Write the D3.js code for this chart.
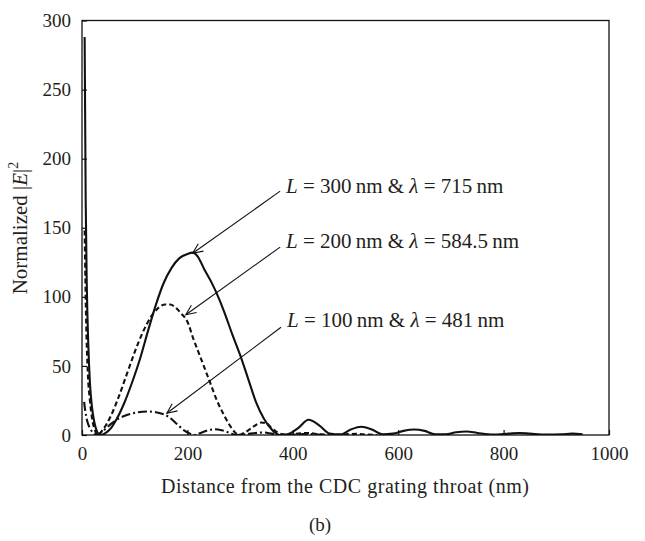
<!DOCTYPE html>
<html><head><meta charset="utf-8">
<script src="https://cdn.jsdelivr.net/npm/d3@7"></script>
<style>
html,body{margin:0;padding:0;background:#fff;}
svg{display:block;}
text{font-family:"Liberation Serif","Times New Roman",serif;fill:#231f20;}
</style></head>
<body>
<script>
// ---- data ----
const xTicks = [0, 200, 400, 600, 800, 1000];
const yTicks = [0, 50, 100, 150, 200, 250, 300];

const distL300 = [5,7,9,12,15,19,23,27,31,36,45,55,65,80,95,110,125,140,155,170,185,200,210,220,232,245,255,270,285,300,315,330,345,360,374,390,410,430,450,470,490,510,530,550,570,590,610,630,650,670,690,710,730,750,780,810,830,850,880,910,930,950];
const valL300  = [288,170,110,65,38,20,10,4,1,0,1.5,5,11,23,38,55,75,94,110,121,128,131,132,129,120,111,103,89,73,58,41,24,12,4,0,0.5,5,11,7,1,0.3,4,6,4,0.5,1,3,4,3,0.5,0.5,2,2.5,1.5,0.3,1,1.5,1,0.3,0.5,1,0.5];

const distL200 = [5,8,11,15,20,25,29,40,55,70,85,100,115,130,145,158,167,177,188,200,211,227,243,256,270,282,290,297,310,325,340,350,360,370,380,390,410,430,450,470,500,520,540,560];
const valL200  = [148,80,45,25,10,3,0,4,14,28,44,60,74,85,92,94.5,94.5,92.5,88,82,70,54,38,25,14,6,2,0,2,6,9,8.5,5,2,0.5,0,1,1.5,0.5,0,0.5,0.8,0.3,0];

const distL100 = [4,6,10,15,20,28,40,55,70,85,100,115,125,140,155,165,180,195,205,212,225,240,252,265,280,293,310,330,345,360,375,390,410,430,450,470];
const valL100  = [24,18,10,5,2,0,3,8,12,14.5,16,16.8,17,16.5,15,13,8,3,1,0,1.5,3.5,4.2,3.5,1.5,0,0.5,1.5,1.8,1,0.2,0,0.5,0.8,0.3,0];

const labelTexts = [["300","715"],["200","584.5"],["100","481"]];
const labelAnchor = [[387,175],[387,135.3],[389,78.2]];       // label position (nm, value)
const arrowTail = [[376,176.5],[376,136],[377.6,78]];          // (nm, value)
const arrowTip  = [[210,131.5],[197,87],[161,15.7]];           // (nm, value)

// ---- layout ----
const W = 645, H = 541;
const m = {left: 82, top: 20.5, right: 609, bottom: 435};
const FONT = '"Liberation Serif","Times New Roman",serif';
const svg = d3.select("body").append("svg").attr("width", W).attr("height", H);
const x = d3.scaleLinear().domain([0, 1000]).range([m.left, m.right]);
const y = d3.scaleLinear().domain([0, 300]).range([m.bottom, m.top]);

// curves
const line = d3.line().x(d => x(d[0])).y(d => y(d[1])).curve(d3.curveMonotoneX);
const series = [
  {d: d3.zip(distL300, valL300), dash: null},
  {d: d3.zip(distL200, valL200), dash: "5,3"},
  {d: d3.zip(distL100, valL100), dash: "9,3,2,3"}
];
svg.append("clipPath").attr("id","c").append("rect")
  .attr("x", m.left).attr("y", m.top).attr("width", m.right-m.left).attr("height", m.bottom-m.top);
series.forEach(s => {
  svg.append("path").attr("d", line(s.d)).attr("fill","none").attr("stroke","#111")
    .attr("stroke-width", 2.1).attr("stroke-dasharray", s.dash).attr("stroke-linejoin","round")
    .attr("clip-path","url(#c)");
});

// axes
const xAxis = d3.axisBottom(x).tickValues(xTicks).tickFormat(d3.format("d")).tickSizeInner(-5).tickSizeOuter(0).tickPadding(12);
const yAxis = d3.axisLeft(y).tickValues(yTicks).tickFormat(d3.format("d")).tickSizeInner(-5).tickSizeOuter(0).tickPadding(11);
const gx = svg.append("g").attr("transform", `translate(0,${m.bottom})`).call(xAxis);
const gy = svg.append("g").attr("transform", `translate(${m.left},0)`).call(yAxis);
[gx, gy].forEach(g => {
  g.select(".domain").remove();
  g.selectAll("line").attr("stroke","#111").attr("stroke-width",1.2);
  g.selectAll("text").style("font-family",FONT).style("font-size","19px").attr("fill","#231f20");
});
// frame
svg.append("rect").attr("x", m.left).attr("y", m.top).attr("width", m.right-m.left).attr("height", m.bottom-m.top)
  .attr("fill","none").attr("stroke","#111").attr("stroke-width",1.3);

// axis titles
svg.append("text").attr("x", 345).attr("y", 493).attr("text-anchor","middle").style("font-size","20px")
  .attr("textLength", 368).attr("lengthAdjust","spacing")
  .text("Distance from the CDC grating throat (nm)");
svg.append("text").attr("x", 320).attr("y", 531).attr("text-anchor","middle").style("font-size","19px").text("(b)");
const yl = svg.append("text").attr("transform","translate(27,228) rotate(-90)").attr("text-anchor","middle").style("font-size","21px");
yl.append("tspan").text("Normalized |");
yl.append("tspan").attr("font-style","italic").text("E");
yl.append("tspan").text("|");
yl.append("tspan").attr("dy",-9).style("font-size","14px").text("2");

// annotations
labelTexts.forEach((t, i) => {
  const tx = svg.append("text").attr("x", x(labelAnchor[i][0])).attr("y", y(labelAnchor[i][1])).style("font-size","21px");
  tx.append("tspan").attr("font-style","italic").text("L");
  tx.append("tspan").text(` = ${t[0]}\u2009nm & `);
  tx.append("tspan").attr("font-style","italic").text("\u03bb");
  tx.append("tspan").text(` = ${t[1]}\u2009nm`);
  const x1 = x(arrowTail[i][0]), y1 = y(arrowTail[i][1]), x2 = x(arrowTip[i][0]), y2 = y(arrowTip[i][1]);
  svg.append("line").attr("x1",x1).attr("y1",y1).attr("x2",x2).attr("y2",y2).attr("stroke","#111").attr("stroke-width",1.1);
  const ang = Math.atan2(y1 - y2, x1 - x2), L = 11, a = 0.42;
  const p = d3.path();
  p.moveTo(x2 + L*Math.cos(ang+a), y2 + L*Math.sin(ang+a));
  p.lineTo(x2, y2);
  p.lineTo(x2 + L*Math.cos(ang-a), y2 + L*Math.sin(ang-a));
  svg.append("path").attr("d", p.toString()).attr("fill","none").attr("stroke","#111").attr("stroke-width",1.1);
});
</script>
</body></html>
